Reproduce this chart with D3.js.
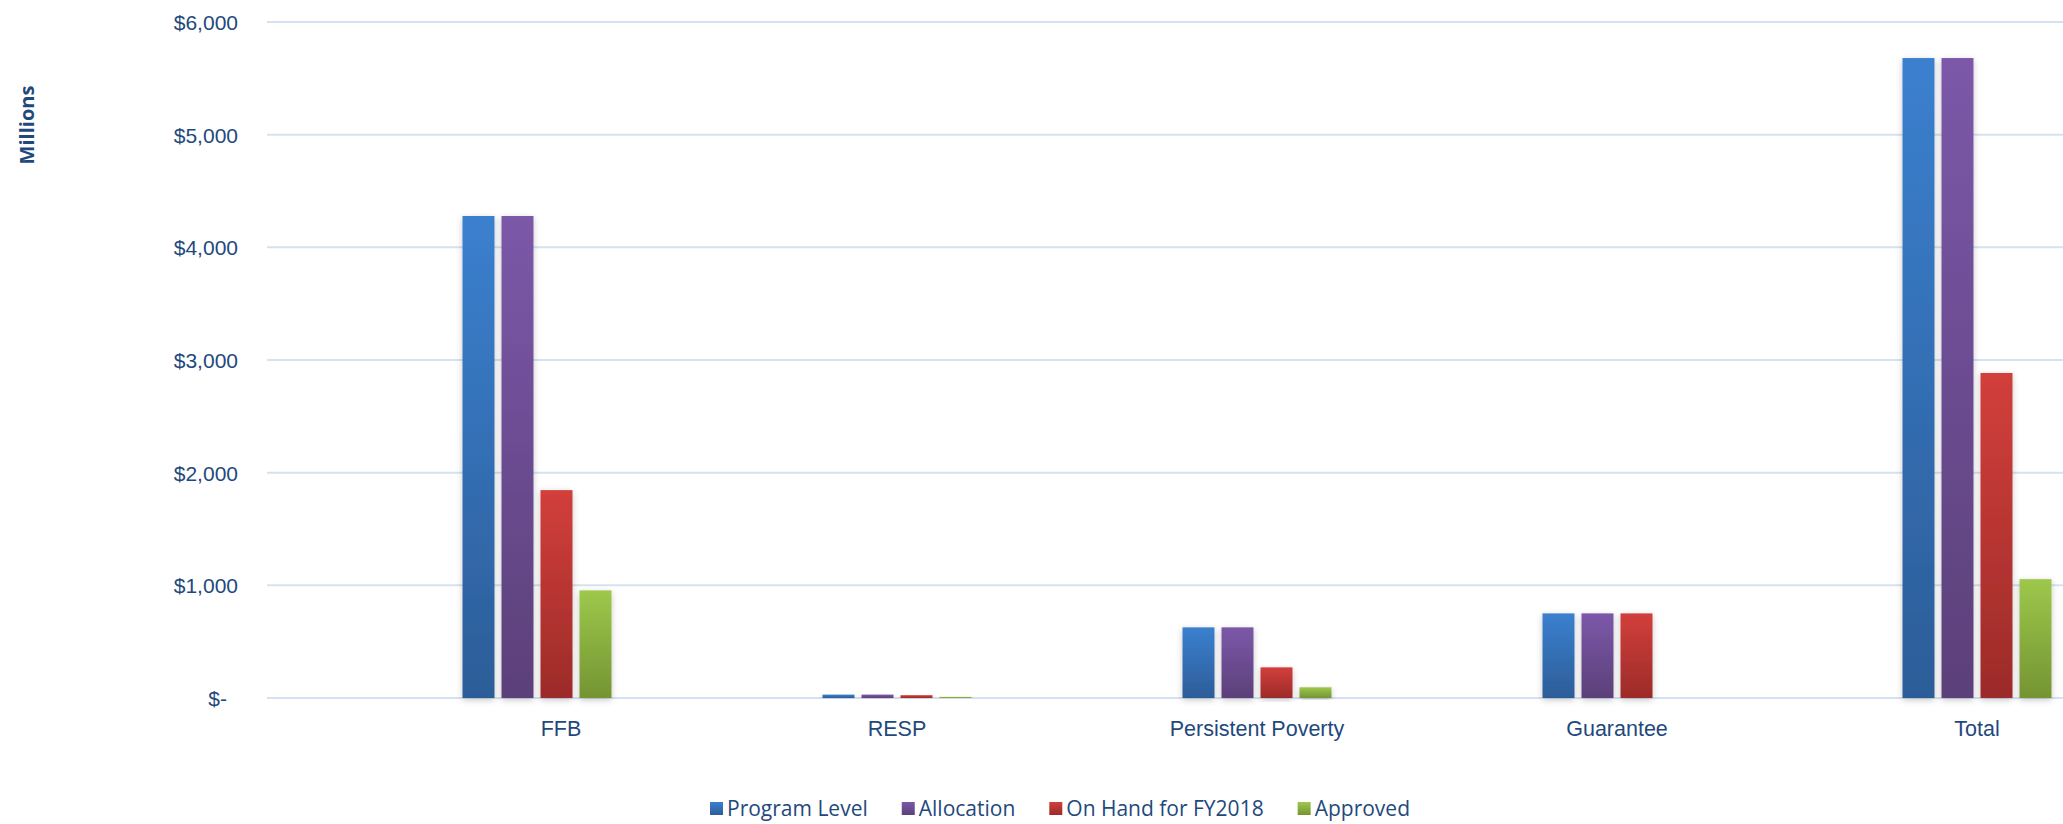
<!DOCTYPE html>
<html>
<head>
<meta charset="utf-8">
<script src="https://cdn.jsdelivr.net/npm/d3@7"></script>
<style>
  html, body { margin: 0; padding: 0; background: #ffffff; }
  svg { display: block; font-family: "Open Sans", "Noto Sans", sans-serif; }
</style>
</head>
<body>
<svg id="chart" width="2063" height="824"></svg>
<script>
// ---- data ----
const categories = ["FFB", "RESP", "Persistent Poverty", "Guarantee", "Total"];
const seriesNames = ["Program Level", "Allocation", "On Hand for FY2018", "Approved"];
const programLevel = [4278, 30, 627, 751, 5680];
const allocation   = [4278, 30, 627, 751, 5680];
const onHand       = [1845, 25, 272, 751, 2885];
const approved     = [955, 10, 95, 0, 1055];
const yTicks = [0, 1000, 2000, 3000, 4000, 5000, 6000];
const yAxisTitle = "Millions";

const seriesValues = [programLevel, allocation, onHand, approved];
const colors = [
  {top: "#3b80cf", bottom: "#2c5d98"},
  {top: "#7c58a9", bottom: "#5b4079"},
  {top: "#d23f3b", bottom: "#9c2b29"},
  {top: "#9dc84b", bottom: "#749433"}
];

const svg = d3.select("#chart");
const gridLeft = 267, gridRight = 2063;

const y = d3.scaleLinear().domain([0, 6000]).range([698, 22]);
const x = d3.scaleBand().domain(categories).range([357, 2157]);
const groupWidth = 149;
const xs = d3.scaleBand().domain(seriesNames).range([0, groupWidth]).paddingInner(0.18);

// defs: gradients + shadow
const defs = svg.append("defs");
colors.forEach((c, i) => {
  const g = defs.append("linearGradient").attr("id", "grad" + i)
    .attr("x1", 0).attr("y1", 0).attr("x2", 0).attr("y2", 1);
  g.append("stop").attr("offset", "0%").attr("stop-color", c.top);
  g.append("stop").attr("offset", "100%").attr("stop-color", c.bottom);
});
const f = defs.append("filter").attr("id", "shadow")
  .attr("x", "-30%").attr("y", "-5%").attr("width", "160%").attr("height", "115%");
f.append("feDropShadow").attr("dx", 0).attr("dy", 2).attr("stdDeviation", 3)
  .attr("flood-color", "#000").attr("flood-opacity", 0.22);

// gridlines
svg.append("g").selectAll("line").data(yTicks).join("line")
  .attr("x1", gridLeft).attr("x2", gridRight)
  .attr("y1", d => y(d)).attr("y2", d => y(d))
  .attr("stroke", "#d6e2f1").attr("stroke-width", 2);

// y axis labels
const yAxis = d3.axisLeft(y).tickValues(yTicks).tickSize(0).tickPadding(0)
  .tickFormat(d => d === 0 ? "$-" : "$" + d3.format(",")(d));
const yg = svg.append("g").attr("transform", "translate(238,0)").call(yAxis);
yg.select(".domain").remove();
yg.selectAll("text").attr("fill", "#1f497d").style("font-size", "21px")
  .attr("dy", "0.35em")
  .attr("x", d => d === 0 ? -11 : 0);

// y axis title
svg.append("text")
  .attr("transform", "translate(27,125) rotate(-90)")
  .attr("text-anchor", "middle").attr("dy", "0.35em")
  .attr("fill", "#1f497d").style("font-size", "20px").style("font-weight", "bold")
  .text(yAxisTitle);

// bars
const groupOffset = (x.bandwidth() - groupWidth) / 2;
const barsG = svg.append("g");
seriesValues.forEach((vals, si) => {
  barsG.append("g").selectAll("rect").data(vals.map((v, ci) => ({v, c: categories[ci]})))
    .join("rect")
    .filter(d => d.v > 0)
    .attr("x", d => x(d.c) + groupOffset + xs(seriesNames[si]))
    .attr("y", d => y(d.v))
    .attr("width", xs.bandwidth())
    .attr("height", d => y(0) - y(d.v))
    .attr("fill", `url(#grad${si})`)
    .attr("filter", "url(#shadow)");
});

// x axis labels
const xAxis = d3.axisBottom(x).tickSize(0).tickPadding(0);
const xg = svg.append("g").attr("transform", "translate(0,736)").call(xAxis);
xg.select(".domain").remove();
xg.selectAll(".tick").attr("transform", d => `translate(${x(d) + groupOffset + groupWidth / 2},0)`);
xg.selectAll("text").attr("fill", "#1f497d").style("font-size", "21.5px")
  .attr("y", 0).attr("dy", 0)
  .attr("dx", (d, i) => i === 0 ? 24 : 0);

// legend
const legend = svg.append("g").attr("transform", "translate(0,809)");
let lx = 710;
seriesNames.forEach((name, i) => {
  const item = legend.append("g").attr("transform", `translate(${lx},0)`);
  item.append("rect").attr("x", 0).attr("y", -7).attr("width", 13).attr("height", 13)
    .attr("fill", `url(#grad${i})`);
  const t = item.append("text").attr("x", 17).attr("dy", "0.35em")
    .attr("fill", "#1f497d").style("font-size", "21px").text(name);
  lx += 17 + t.node().getComputedTextLength() + 34;
});
</script>
</body>
</html>
